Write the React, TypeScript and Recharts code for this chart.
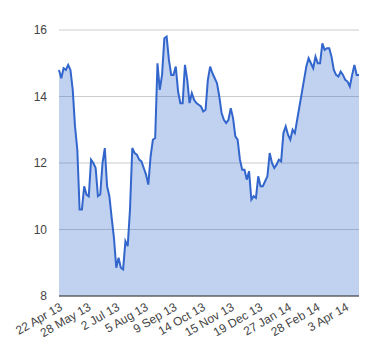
import { AreaChart, Area, XAxis, YAxis, CartesianGrid } from "recharts";

// trading-day index of each x tick, and its label
const tickDays = [0, 25, 50, 75, 100, 125, 150, 175, 200, 225, 250];
const tickLabels = [
  "22 Apr 13",
  "28 May 13",
  "2 Jul 13",
  "5 Aug 13",
  "9 Sep 13",
  "14 Oct 13",
  "15 Nov 13",
  "19 Dec 13",
  "27 Jan 14",
  "28 Feb 14",
  "3 Apr 14",
];
const yTicks = [8, 10, 12, 14, 16];

// one reading every 2 trading days
const step = 2;
const closes = [
  14.8, 14.55, 14.85, 14.8, 14.95, 14.8, 14.2, 13.1, 12.4, 10.6,
  10.6, 11.3, 11.05, 11.0, 12.1, 12.0, 11.85, 11.0, 11.05, 12.0,
  12.45, 11.3, 11.0, 10.35, 9.75, 8.85, 9.15, 8.85, 8.8, 9.65,
  9.5, 10.6, 12.45, 12.3, 12.25, 12.1, 12.05, 11.85, 11.65, 11.35,
  12.2, 12.7, 12.75, 15.0, 14.2, 14.65, 15.75, 15.8, 15.1, 14.65,
  14.65, 14.9, 14.15, 13.8, 13.8, 14.95, 14.5, 13.8, 14.1, 13.9,
  13.8, 13.75, 13.7, 13.55, 13.6, 14.5, 14.9, 14.7, 14.55, 14.4,
  14.0, 13.5, 13.3, 13.2, 13.3, 13.65, 13.35, 12.8, 12.7, 12.1,
  11.8, 11.8, 11.5, 11.75, 10.9, 11.0, 10.95, 11.6, 11.3, 11.3,
  11.45, 11.6, 12.3, 12.0, 11.85, 11.95, 12.1, 12.05, 12.9, 13.1,
  12.85, 12.7, 13.0, 12.9, 13.3, 13.7, 14.1, 14.5, 14.9, 15.15,
  15.0, 14.85, 15.2, 15.0, 15.0, 15.6, 15.4, 15.45, 15.45, 15.2,
  14.8, 14.65, 14.6, 14.75, 14.65, 14.5, 14.45, 14.3, 14.65, 14.95,
  14.65, 14.65,
];

const data = closes.map((value, i) => ({ day: i * step, value }));
const lastDay = (closes.length - 1) * step;

const labelFor = (day: number) => tickLabels[tickDays.indexOf(day)] ?? "";

export default function App() {
  return (
    <div style={{ width: 372, height: 352, fontFamily: "Arial, 'Liberation Sans', sans-serif" }}>
      <AreaChart width={372} height={352} data={data} margin={{ top: 22, right: 21, bottom: 4, left: 0 }}>
        <CartesianGrid vertical={false} stroke="#cccccc" />
        <XAxis
          dataKey="day"
          type="number"
          domain={[0, lastDay]}
          ticks={tickDays}
          tickFormatter={labelFor}
          interval={0}
          height={60}
          tickLine={false}
          tickSize={0}
          tickMargin={6}
          axisLine={{ stroke: "#333333" }}
          angle={-30}
          textAnchor="end"
          tick={{ fill: "#444444", fontSize: 12 }}
        />
        <YAxis
          domain={[8, 16]}
          ticks={yTicks}
          width={51}
          axisLine={false}
          tickLine={false}
          tickSize={0}
          tickMargin={12}
          tick={{ fill: "#444444", fontSize: 12 }}
        />
        <Area
          type="linear"
          dataKey="value"
          stroke="#3366cc"
          strokeWidth={2}
          fill="#3366cc"
          fillOpacity={0.3}
          isAnimationActive={false}
        />
      </AreaChart>
    </div>
  );
}
